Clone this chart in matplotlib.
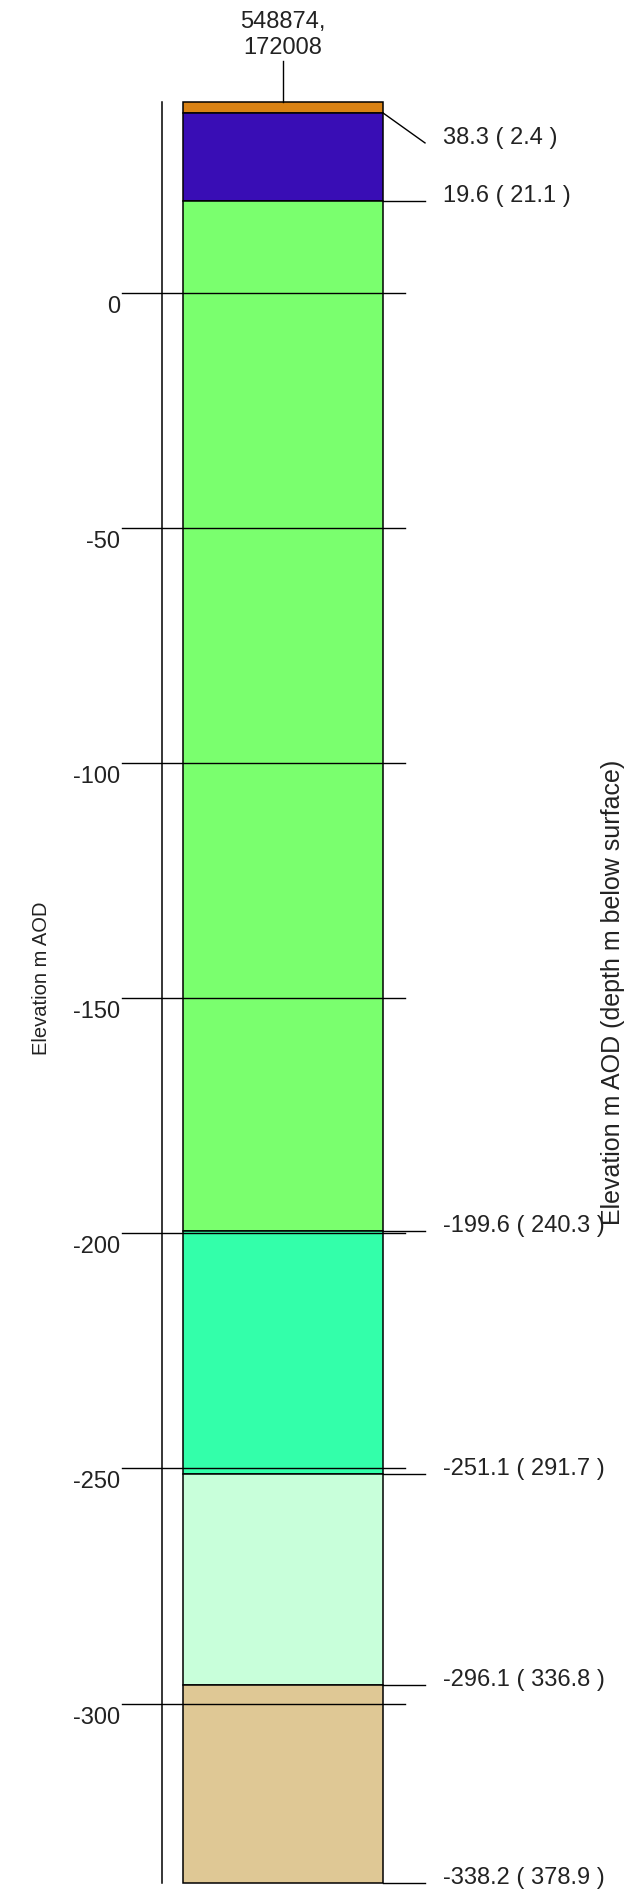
import matplotlib
matplotlib.use("Agg")
import matplotlib.pyplot as plt

plt.rcParams['font.family'] = ['Liberation Sans', 'DejaVu Sans']

# borehole data
location = "548874,\n172008"
ground_level = 40.7
layer_tops = [40.7, 38.3, 19.6, -199.6, -251.1, -296.1]
layer_bases = [38.3, 19.6, -199.6, -251.1, -296.1, -338.2]
base_depths = [2.4, 21.1, 240.3, 291.7, 336.8, 378.9]
layer_colors = ['#D98214', '#390DB5', '#7AFF6E', '#33FFAA', '#C8FFDA', '#DFC895']
ticks = [0, -50, -100, -150, -200, -250, -300]

# pixel scale: 4.70 px per metre, 0 m at 294 px from top
px = 1 / 4.7017
fig = plt.figure(figsize=(6.3, 18.9), dpi=100)
ax = fig.add_axes([0, 0, 1, 1])
ax.set_xlim(0, 630)
ax.set_ylim(-(1890 - 294) * px, 294 * px)
ax.axis('off')

# layers
heights = [t - b for t, b in zip(layer_tops, layer_bases)]
ax.bar(283, heights, width=200, bottom=layer_bases, color=layer_colors,
       edgecolor='black', linewidth=1.1, zorder=2)

# axis line
ax.plot([162, 162], [ground_level, layer_bases[-1]], color='black', lw=1.1, zorder=3)

# grid lines and tick labels
for t in ticks:
    ax.plot([122, 405], [t, t], color='black', lw=1.0, zorder=3)
    ax.text(120, t - 2 * px, str(t), ha='right', va='top', fontsize=17, color='#222222')

# base labels on the right
for i, (b, d) in enumerate(zip(layer_bases, base_depths)):
    y_end = b - 30 * px if i == 0 else b
    ax.plot([383, 425], [b, y_end], color='black', lw=1.0, zorder=3)
    ax.text(443, y_end, f"{b:.1f} ( {d:.1f} )", ha='left', va='baseline',
            fontsize=17, color='#222222')

# location label on top
ax.plot([283, 283], [ground_level, ground_level + 41 * px], color='black', lw=1.0)
ax.text(283, ground_level + 44 * px, location, ha='center', va='bottom',
        fontsize=17, color='#222222', linespacing=1.2)

ax.text(42, (294 - 978) * px, "Elevation m AOD", rotation=90, ha='center', va='center',
        fontsize=14.5, color='#222222')
ax.text(613, (294 - 992) * px, "Elevation m AOD (depth m below surface)", rotation=90,
        ha='center', va='center', fontsize=18, color='#222222')

fig.savefig("out.png", dpi=100)
